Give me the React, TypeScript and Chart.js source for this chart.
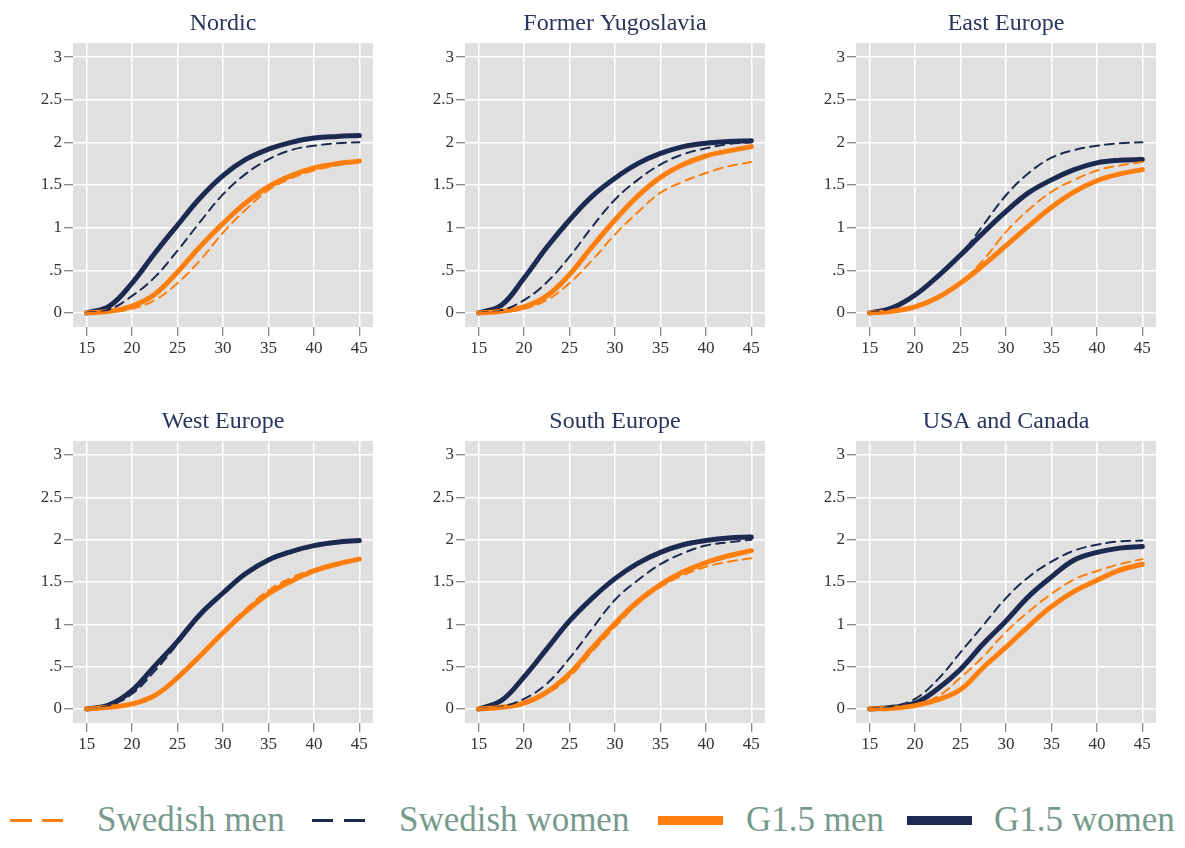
import React, { useEffect, useRef } from 'react';
import { Chart, registerables } from 'chart.js';

Chart.register(...registerables);

// ---------- data ----------
const ages = [15, 17.5, 20, 22.5, 25, 27.5, 30, 32.5, 35, 37.5, 40, 42.5, 45];
const xTickValues = [15, 20, 25, 30, 35, 40, 45];
const yTickValues = [0, 0.5, 1, 1.5, 2, 2.5, 3];
const yTickLabels = ['0', '.5', '1', '1.5', '2', '2.5', '3'];

const seriesNames = ['Swedish men', 'Swedish women', 'G1.5 men', 'G1.5 women'];
const panelTitles = ['Nordic', 'Former Yugoslavia', 'East Europe', 'West Europe', 'South Europe', 'USA and Canada'];

// Nordic
const nordicSwMen = [0, 0.01, 0.05, 0.15, 0.35, 0.62, 0.94, 1.21, 1.44, 1.58, 1.67, 1.73, 1.77];
const nordicSwWomen = [0, 0.04, 0.2, 0.42, 0.73, 1.07, 1.39, 1.63, 1.8, 1.91, 1.96, 1.99, 2.0];
const nordicG15Men = [0, 0.02, 0.08, 0.22, 0.48, 0.78, 1.05, 1.29, 1.48, 1.61, 1.7, 1.75, 1.78];
const nordicG15Women = [0, 0.08, 0.35, 0.7, 1.03, 1.35, 1.61, 1.8, 1.92, 2.0, 2.05, 2.07, 2.08];

// Former Yugoslavia
const yugoSwMen = [0, 0.01, 0.05, 0.15, 0.35, 0.62, 0.92, 1.18, 1.41, 1.54, 1.64, 1.72, 1.77];
const yugoSwWomen = [0, 0.03, 0.15, 0.36, 0.66, 1.01, 1.33, 1.56, 1.74, 1.86, 1.93, 1.98, 2.0];
const yugoG15Men = [0, 0.02, 0.07, 0.2, 0.45, 0.78, 1.09, 1.37, 1.59, 1.74, 1.84, 1.9, 1.95];
const yugoG15Women = [0, 0.09, 0.41, 0.77, 1.09, 1.37, 1.58, 1.75, 1.87, 1.95, 1.99, 2.01, 2.02];

// East Europe
const eastSwMen = [0, 0.02, 0.07, 0.18, 0.36, 0.62, 0.95, 1.21, 1.42, 1.56, 1.67, 1.73, 1.77];
const eastSwWomen = [0, 0.06, 0.2, 0.42, 0.68, 1.03, 1.38, 1.64, 1.82, 1.91, 1.96, 1.99, 2.0];
const eastG15Men = [0, 0.02, 0.07, 0.18, 0.35, 0.56, 0.79, 1.02, 1.24, 1.42, 1.55, 1.63, 1.68];
const eastG15Women = [0, 0.06, 0.21, 0.43, 0.68, 0.94, 1.19, 1.41, 1.56, 1.68, 1.76, 1.79, 1.8];

// West Europe
const westSwMen = [0, 0.02, 0.06, 0.16, 0.37, 0.64, 0.92, 1.18, 1.4, 1.55, 1.65, 1.72, 1.77];
const westSwWomen = [0, 0.04, 0.18, 0.45, 0.77, 1.1, 1.37, 1.6, 1.76, 1.85, 1.93, 1.97, 1.99];
const westG15Men = [0, 0.02, 0.06, 0.16, 0.37, 0.63, 0.9, 1.15, 1.36, 1.51, 1.63, 1.71, 1.77];
const westG15Women = [0, 0.05, 0.22, 0.51, 0.8, 1.12, 1.37, 1.6, 1.76, 1.86, 1.93, 1.97, 1.99];

// South Europe
const southSwMen = [0, 0.02, 0.06, 0.18, 0.38, 0.68, 0.97, 1.24, 1.44, 1.58, 1.68, 1.74, 1.78];
const southSwWomen = [0, 0.03, 0.12, 0.3, 0.6, 0.95, 1.29, 1.52, 1.71, 1.84, 1.93, 1.97, 2.0];
const southG15Men = [0, 0.02, 0.07, 0.2, 0.42, 0.72, 1.01, 1.27, 1.47, 1.62, 1.73, 1.81, 1.87];
const southG15Women = [0, 0.1, 0.38, 0.71, 1.04, 1.31, 1.54, 1.72, 1.85, 1.94, 1.99, 2.02, 2.03];

// USA and Canada
const usaSwMen = [0, 0.01, 0.05, 0.15, 0.37, 0.62, 0.91, 1.15, 1.36, 1.53, 1.63, 1.71, 1.77];
const usaSwWomen = [0, 0.03, 0.12, 0.35, 0.67, 0.99, 1.31, 1.56, 1.74, 1.87, 1.94, 1.98, 1.99];
const usaG15Men = [0, 0.01, 0.04, 0.11, 0.23, 0.49, 0.73, 0.98, 1.21, 1.39, 1.52, 1.64, 1.71];
const usaG15Women = [0, 0.02, 0.07, 0.24, 0.47, 0.77, 1.04, 1.33, 1.56, 1.76, 1.85, 1.9, 1.92];

const panelSeries = [
  [nordicSwMen, nordicSwWomen, nordicG15Men, nordicG15Women],
  [yugoSwMen, yugoSwWomen, yugoG15Men, yugoG15Women],
  [eastSwMen, eastSwWomen, eastG15Men, eastG15Women],
  [westSwMen, westSwWomen, westG15Men, westG15Women],
  [southSwMen, southSwWomen, southG15Men, southG15Women],
  [usaSwMen, usaSwWomen, usaG15Men, usaG15Women],
];

// ---------- style ----------
const NAVY = '#1c2951';
const ORANGE = '#ff7f0e';
const SERIF = '"Liberation Serif", "Times New Roman", serif';
const TITLE_COLOR = '#27355f';
const LEGEND_TEXT = '#789a8c';

const CANVAS_W = 390;
const CANVAS_H = 375;
const PLOT_LEFT = 73;
const PLOT_TOP = 43;
const PLOT_W = 300;

const panelPos = [
  { left: 0, top: 0, plotH: 284 },
  { left: 392, top: 0, plotH: 284 },
  { left: 783, top: 0, plotH: 284 },
  { left: 0, top: 398, plotH: 282 },
  { left: 392, top: 398, plotH: 282 },
  { left: 783, top: 398, plotH: 282 },
];

function Panel({ title, series, plotH }: { title: string; series: number[][]; plotH: number }) {
  const ref = useRef<HTMLCanvasElement | null>(null);
  useEffect(() => {
    if (!ref.current) return;
    const styles = [
      { color: ORANGE, width: 2, dash: [9, 6], order: 1 },
      { color: NAVY, width: 2, dash: [9, 6], order: 2 },
      { color: ORANGE, width: 5, dash: [], order: 3 },
      { color: NAVY, width: 5, dash: [], order: 4 },
    ];
    const datasets = series.map((vals, i) => ({
      label: seriesNames[i],
      data: vals.map((v, j) => ({ x: ages[j], y: v })),
      borderColor: styles[i].color,
      borderWidth: styles[i].width,
      borderDash: styles[i].dash,
      borderCapStyle: 'round' as const,
      borderJoinStyle: 'round' as const,
      pointRadius: 0,
      fill: false,
      tension: 0.4,
      order: styles[i].order,
    }));
    const bgPlugin = {
      id: 'plotBg',
      beforeDraw(chart: any) {
        const { ctx, chartArea } = chart;
        ctx.save();
        ctx.fillStyle = '#e0e0e0';
        ctx.fillRect(chartArea.left, chartArea.top, chartArea.right - chartArea.left, chartArea.bottom - chartArea.top);
        ctx.restore();
      },
    };
    const titlePlugin = {
      id: 'panelTitle',
      afterDraw(chart: any) {
        const { ctx, chartArea } = chart;
        ctx.save();
        ctx.font = `24px ${SERIF}`;
        ctx.fillStyle = TITLE_COLOR;
        ctx.textAlign = 'center';
        ctx.textBaseline = 'middle';
        ctx.fillText(title, (chartArea.left + chartArea.right) / 2, chartArea.top - 19);
        ctx.restore();
      },
    };
    const tickFont = { family: SERIF, size: 17 };
    const chart = new Chart(ref.current, {
      type: 'line',
      data: { datasets },
      options: {
        animation: false,
        responsive: false,
        maintainAspectRatio: false,
        layout: { padding: { left: 0, right: CANVAS_W - PLOT_LEFT - PLOT_W, top: PLOT_TOP, bottom: 0 } },
        plugins: { legend: { display: false }, tooltip: { enabled: false }, title: { display: false } },
        scales: {
          x: {
            type: 'linear',
            min: 13.5,
            max: 46.5,
            afterBuildTicks: (s: any) => {
              s.ticks = xTickValues.map((v) => ({ value: v }));
            },
            afterFit: (s: any) => {
              s.height = CANVAS_H - PLOT_TOP - plotH;
            },
            grid: { color: '#ffffff', lineWidth: 1.5, tickColor: '#666666', tickLength: 9, tickWidth: 1 },
            border: { display: false },
            ticks: {
              font: tickFont,
              color: '#333333',
              padding: 2,
              maxRotation: 0,
              autoSkip: false,
              callback: (v: any) => String(v),
            },
          },
          y: {
            type: 'linear',
            min: -0.165,
            max: 3.165,
            afterBuildTicks: (s: any) => {
              s.ticks = yTickValues.map((v) => ({ value: v }));
            },
            afterFit: (s: any) => {
              s.width = PLOT_LEFT;
            },
            grid: { color: '#ffffff', lineWidth: 1.5, tickColor: '#666666', tickLength: 9, tickWidth: 1 },
            border: { display: false },
            ticks: {
              font: tickFont,
              color: '#333333',
              padding: 2,
              autoSkip: false,
              callback: (v: any) => {
                const i = yTickValues.indexOf(Number(v));
                return i >= 0 ? yTickLabels[i] : '';
              },
            },
          },
        },
      },
      plugins: [bgPlugin, titlePlugin],
    });
    return () => chart.destroy();
  }, [title, series, plotH]);
  return <canvas ref={ref} width={CANVAS_W} height={CANVAS_H} style={{ width: CANVAS_W, height: CANVAS_H, display: 'block' }} />;
}

const legendText: React.CSSProperties = {
  position: 'absolute',
  top: 798,
  fontFamily: SERIF,
  fontSize: 35,
  lineHeight: '44px',
  color: LEGEND_TEXT,
  whiteSpace: 'nowrap',
};

function seg(left: number, width: number, height: number, color: string) {
  return (
    <div
      style={{ position: 'absolute', left, top: 820 - height / 2, width, height, background: color }}
    />
  );
}

export default function App() {
  useEffect(() => {
    document.body.style.margin = '0';
    document.body.style.background = '#ffffff';
  }, []);
  return (
    <div style={{ position: 'relative', width: 1185, height: 848, background: '#ffffff', overflow: 'hidden' }}>
      {panelTitles.map((t, i) => (
        <div key={t} style={{ position: 'absolute', left: panelPos[i].left, top: panelPos[i].top }}>
          <Panel title={t} series={panelSeries[i]} plotH={panelPos[i].plotH} />
        </div>
      ))}
      {seg(10, 22, 3, ORANGE)}
      {seg(42, 21, 3, ORANGE)}
      <span style={{ ...legendText, left: 97 }}>{seriesNames[0]}</span>
      {seg(312, 21, 3, NAVY)}
      {seg(344, 21, 3, NAVY)}
      <span style={{ ...legendText, left: 399 }}>{seriesNames[1]}</span>
      {seg(658, 65, 9, ORANGE)}
      <span style={{ ...legendText, left: 746 }}>{seriesNames[2]}</span>
      {seg(907, 65, 9, NAVY)}
      <span style={{ ...legendText, left: 994 }}>{seriesNames[3]}</span>
    </div>
  );
}
